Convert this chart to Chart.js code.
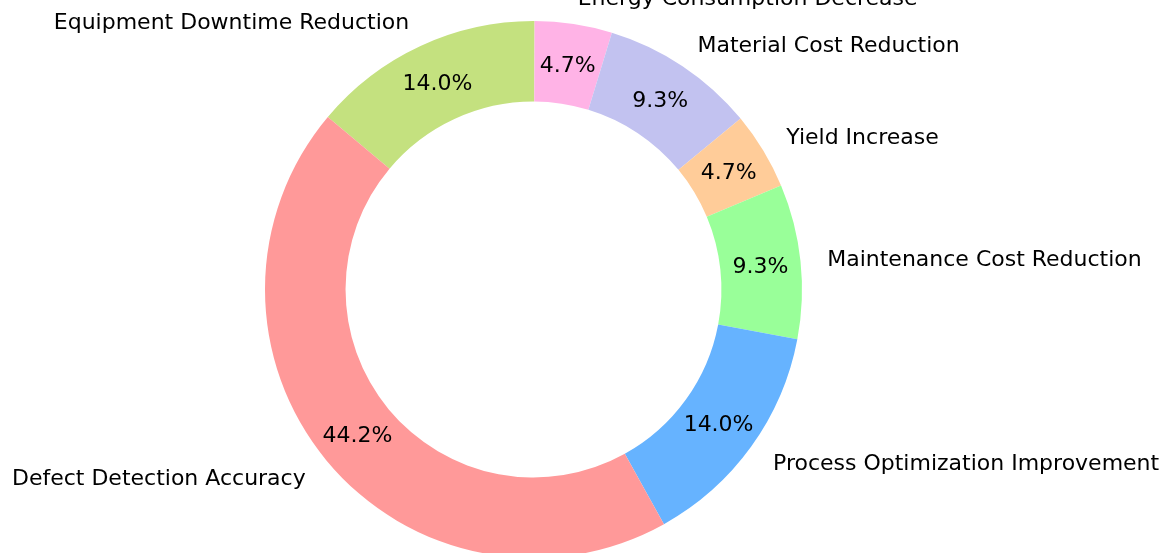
<!DOCTYPE html>
<html>
<head>
<meta charset="utf-8">
<script src="https://cdn.jsdelivr.net/npm/chart.js@4/dist/chart.umd.min.js"></script>
<style>
  html, body { margin: 0; padding: 0; background: #fff; overflow: hidden; width: 1173px; height: 553px; }
  #wrap { position: absolute; left: 0; top: 0; width: 1173px; height: 620px; }
</style>
</head>
<body>
<div id="wrap"><canvas id="c" width="1173" height="620"></canvas></div>
<script>
// Data (matplotlib order, counter-clockwise from start angle 140°)
const categories = [
  'Defect Detection Accuracy',
  'Process Optimization Improvement',
  'Maintenance Cost Reduction',
  'Yield Increase',
  'Material Cost Reduction',
  'Energy Consumption Decrease',
  'Equipment Downtime Reduction'
];
const values = [95, 30, 20, 10, 20, 10, 30];
const colors = ['#ff9999', '#66b3ff', '#99ff99', '#ffcc99', '#c2c2f0', '#ffb3e6', '#c4e17f'];

// Chart.js draws clockwise, so feed the slices in reverse order
const labelsCW = categories.slice().reverse();
const valuesCW = values.slice().reverse();
const colorsCW = colors.slice().reverse();
const total = values.reduce((a, b) => a + b, 0);

const FONT = '22px "DejaVu Sans"';
const TEXT_DY = 2;

const labelPlugin = {
  id: 'pieLabels',
  afterDatasetsDraw(chart) {
    const ctx = chart.ctx;
    const meta = chart.getDatasetMeta(0);
    ctx.save();
    ctx.font = FONT;
    ctx.fillStyle = '#000';
    meta.data.forEach((arc, i) => {
      const p = arc.getProps(['x', 'y', 'startAngle', 'endAngle', 'outerRadius'], true);
      const mid = (p.startAngle + p.endAngle) / 2;
      const cx = Math.cos(mid), cy = Math.sin(mid);
      // percentage
      const pct = (valuesCW[i] / total * 100).toFixed(1) + '%';
      ctx.textAlign = 'center';
      ctx.textBaseline = 'middle';
      ctx.fillText(pct, p.x + cx * p.outerRadius * 0.85, p.y + cy * p.outerRadius * 0.85 + TEXT_DY);
      // category label
      const lx = p.x + cx * p.outerRadius * 1.1;
      const ly = p.y + cy * p.outerRadius * 1.1 + TEXT_DY;
      ctx.textAlign = cx >= 0 ? 'left' : 'right';
      ctx.fillText(labelsCW[i], lx, ly);
    });
    ctx.restore();
  }
};

new Chart(document.getElementById('c'), {
  type: 'doughnut',
  data: {
    labels: labelsCW,
    datasets: [{
      data: valuesCW,
      backgroundColor: colorsCW,
      borderWidth: 0,
      hoverOffset: 0
    }]
  },
  options: {
    responsive: false,
    animation: false,
    rotation: -50,
    cutout: '70%',
    layout: { padding: { left: 265, right: 371, top: 21, bottom: 62 } },
    plugins: { legend: { display: false }, tooltip: { enabled: false } }
  },
  plugins: [labelPlugin]
});
</script>
</body>
</html>
